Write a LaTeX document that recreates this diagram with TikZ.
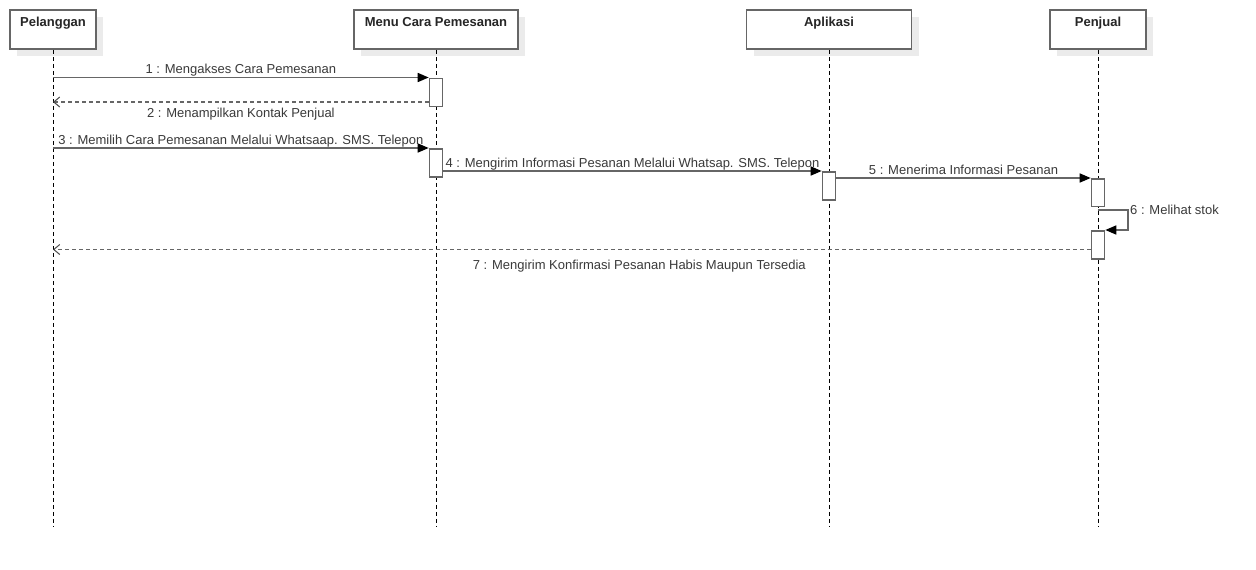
\documentclass[tikz,border=0pt]{standalone}
\usepackage{fontspec}
\setmainfont{Liberation Sans}
\usepackage{tikz}
\usetikzlibrary{arrows.meta,shadows}
\definecolor{linegray}{HTML}{666666}
\definecolor{txtgray}{HTML}{3A3A3A}
\definecolor{shadegray}{HTML}{EBEBEB}

\begin{document}
\begin{tikzpicture}[x=1pt,y=-1pt,
  lifebox/.style={draw=linegray, line width=1.6pt, fill=white, inner sep=0pt,
    minimum height=39pt, text height=16.5pt, text depth=22.5pt,
    font=\fontsize{13}{15}\selectfont\bfseries, text=black!85,
    drop shadow={shadow xshift=7pt, shadow yshift=-7pt, fill=shadegray, opacity=1}},
  lifeline/.style={black, line width=1pt, dash pattern=on 4pt off 3pt},
  act/.style={draw=linegray, line width=1.6pt, fill=white, inner sep=0pt,
    minimum width=13pt, anchor=north},
  msg/.style={linegray, line width=1.6pt, -{Triangle[length=11pt,width=9pt,black]}},
  ret/.style={linegray, line width=1.6pt, dash pattern=on 4pt off 3pt,
    -{Straight Barb[length=6pt,width=10pt,black!70,line width=1pt]}},
  lbl/.style={anchor=base, inner sep=0pt, text=txtgray, font=\fontsize{13}{15}\selectfont}]
\useasboundingbox[fill=white] (0,0) rectangle (1256,570);
% Objects
\node[lifebox, minimum width=86pt] (pel) at (53,29.5) {Pelanggan};
\node[lifebox, minimum width=164pt] (menu) at (436,29.5) {Menu Cara Pemesanan};
\node[lifebox, minimum width=165pt] (apk) at (829,29.5) {Aplikasi};
\node[lifebox, minimum width=96pt] (pen) at (1098,29.5) {Penjual};
% Lifelines
\draw[lifeline] (pel.south) -- (pel.south |- 0,527);
\draw[lifeline] (menu.south) -- (menu.south |- 0,527);
\draw[lifeline] (apk.south) -- (apk.south |- 0,527);
\draw[lifeline] (pen.south) -- (pen.south |- 0,527);
% Activations
\node[act, minimum height=28pt] (act1) at (menu.south |- 0,77.5) {};
\node[act, minimum height=28pt] (act2) at (menu.south |- 0,148) {};
\node[act, minimum height=28pt] (act3) at (apk.south |- 0,171) {};
\node[act, minimum height=27.5pt] (act4) at (pen.south |- 0,178) {};
\node[act, minimum height=28pt] (act5) at (pen.south |- 0,230) {};
% Messages
\draw[msg] (pel.south |- act1.north) -- (act1.north west)
  node[lbl, midway, yshift=4pt] (l1) {1 : Mengakses Cara Pemesanan};
\draw[ret] (act1.west |- 0,102) -- (pel.south |- 0,102)
  node[lbl, midway, yshift=-15pt] (l2) {2 : Menampilkan Kontak Penjual};
\draw[msg] (pel.south |- act2.north) -- (act2.north west)
  node[lbl, midway, yshift=4pt] (l3) {3 : Memilih Cara Pemesanan Melalui Whatsaap. SMS. Telepon};
\draw[msg] (act2.east |- act3.north) -- (act3.north west)
  node[lbl, midway, yshift=4pt] (l4) {4 : Mengirim Informasi Pesanan Melalui Whatsap. SMS. Telepon};
\draw[msg] (act3.east |- act4.north) -- (act4.north west)
  node[lbl, midway, yshift=4pt] (l5) {5 : Menerima Informasi Pesanan};
% Self message
\coordinate (turn) at (1128,210);
\draw[msg] (pen.south |- turn) -- (turn) -- (turn |- act5.north) -- (act5.north east);
\node[lbl, anchor=base west] (l6) at (1130,214.5) {6 : Melihat stok};
% Reply
\draw[ret] (act5.west |- 0,249.5) -- (pel.south |- 0,249.5)
  node[lbl, pos=0.435, yshift=-20pt] (l7) {7 : Mengirim Konfirmasi Pesanan Habis Maupun Tersedia};
\end{tikzpicture}
\end{document}
